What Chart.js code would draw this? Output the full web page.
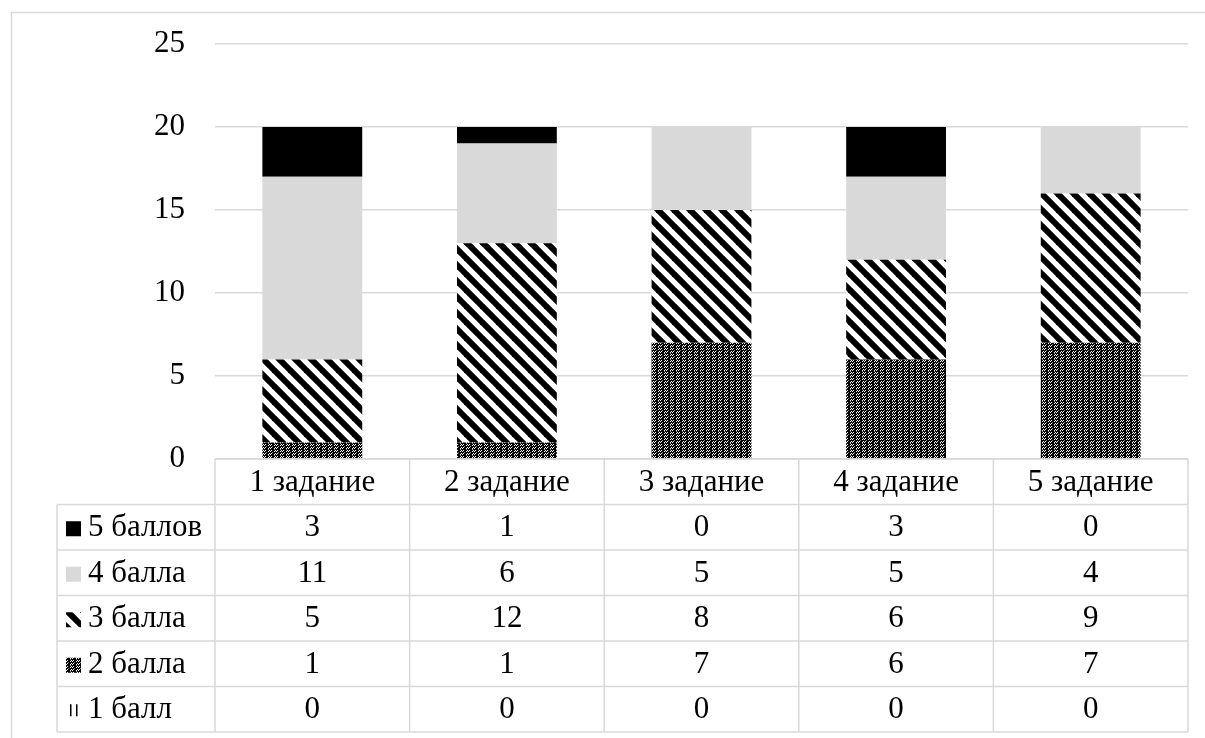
<!DOCTYPE html>
<html>
<head>
<meta charset="utf-8">
<script src="https://cdn.jsdelivr.net/npm/chart.js@4/dist/chart.umd.min.js"></script>
<style>
  html, body { margin: 0; padding: 0; background: #fff; }
  #wrap { width: 1205px; height: 738px; }
</style>
</head>
<body>
<div id="wrap"><canvas id="chart" width="1205" height="738"></canvas></div>
<script>
// ---- data ----
const tasks = ["1 задание", "2 задание", "3 задание", "4 задание", "5 задание"];
const seriesNames = ["1 балл", "2 балла", "3 балла", "4 балла", "5 баллов"]; // bottom -> top
const ball1 = [0, 0, 0, 0, 0];
const ball2 = [1, 1, 7, 6, 7];
const ball3 = [5, 12, 8, 6, 9];
const ball4 = [11, 6, 5, 5, 4];
const ball5 = [3, 1, 0, 3, 0];
const yTicks = [0, 5, 10, 15, 20, 25];

const FONT = "'Liberation Serif', 'Times New Roman', serif";
const FSIZE = 31;
const GRID = "#d9d9d9";
const LIGHT = "#d9d9d9";

// ---- fill patterns ----
function makeTile(size, draw) {
  const c = document.createElement("canvas");
  c.width = size;
  c.height = size;
  const g = c.getContext("2d");
  g.fillStyle = "#fff";
  g.fillRect(0, 0, size, size);
  draw(g, size);
  return document.createElement("canvas").getContext("2d").createPattern(c, "repeat");
}

// diagonal black stripes "\\\\"
const hatchPattern = makeTile(16, (g, s) => {
  g.strokeStyle = "#000";
  g.lineWidth = 6;
  for (let k = -1; k <= 1; k++) {
    g.beginPath();
    g.moveTo(k * s - 2, -2);
    g.lineTo(k * s + s + 2, s + 2);
    g.stroke();
  }
});

// dense dotted checker
const checkPattern = makeTile(6, (g) => {
  const px = [
    "BWBBBW",
    "WBBBWB",
    "BBGBBB",
    "BWBBBW",
    "WBBBWB",
    "BBBBGB",
  ];
  px.forEach((row, y) => {
    [...row].forEach((ch, x) => {
      g.fillStyle = ch === "B" ? "#000" : ch === "G" ? "#888" : "#fff";
      g.fillRect(x, y, 1, 1);
    });
  });
});

// thin vertical lines
const vlinePattern = makeTile(6, (g, s) => {
  g.fillStyle = "#000";
  g.fillRect(0, 0, 1, s);
});

const fills = [vlinePattern, checkPattern, hatchPattern, LIGHT, "#000"];
const values = [ball1, ball2, ball3, ball4, ball5];

// ---- table under the plot + outer frame ----
const tablePlugin = {
  id: "dataTable",
  afterDraw(chart) {
    const ctx = chart.ctx;
    const area = chart.chartArea;
    const xs = chart.scales.x;
    const colW = (area.right - area.left) / tasks.length;
    const top = area.bottom;
    const rowH = 45.5;
    const leftCol = 57;
    const nRows = seriesNames.length + 1;
    const bottom = top + rowH * nRows;

    ctx.save();
    ctx.strokeStyle = GRID;
    ctx.lineWidth = 1.5;

    // outer frame
    ctx.beginPath();
    ctx.moveTo(11.5, 738);
    ctx.lineTo(11.5, 12.5);
    ctx.lineTo(1205, 12.5);
    ctx.stroke();

    // horizontal table lines
    ctx.beginPath();
    ctx.moveTo(area.left, top);
    ctx.lineTo(area.right, top);
    for (let r = 1; r <= nRows; r++) {
      const y = top + r * rowH;
      ctx.moveTo(leftCol, y);
      ctx.lineTo(area.right, y);
    }
    // vertical table lines
    ctx.moveTo(leftCol, top + rowH);
    ctx.lineTo(leftCol, bottom);
    for (let c = 0; c <= tasks.length; c++) {
      const x = area.left + c * colW;
      ctx.moveTo(x, top);
      ctx.lineTo(x, bottom);
    }
    ctx.stroke();

    ctx.fillStyle = "#000";
    ctx.font = FSIZE + "px " + FONT;
    ctx.textBaseline = "middle";
    ctx.textAlign = "center";

    // header row
    tasks.forEach((t, i) => {
      ctx.fillText(t, xs.getPixelForValue(i), top + rowH / 2 + 1);
    });

    // data rows, top row is the top series
    for (let r = 0; r < seriesNames.length; r++) {
      const s = seriesNames.length - 1 - r;
      const cy = top + (r + 1) * rowH + rowH / 2 + 1;

      // legend key
      if (s === 0) {
        ctx.fillRect(70, cy - 6, 1.5, 12);
        ctx.fillRect(76, cy - 6, 1.5, 12);
      } else {
        ctx.fillStyle = fills[s];
        ctx.fillRect(66, cy - 7, 15, 15);
      }
      ctx.fillStyle = "#000";
      ctx.textAlign = "left";
      ctx.fillText(seriesNames[s], 88, cy);

      ctx.textAlign = "center";
      values[s].forEach((v, i) => {
        ctx.fillText(String(v), xs.getPixelForValue(i), cy);
      });
    }
    ctx.restore();
  },
};

new Chart(document.getElementById("chart"), {
  type: "bar",
  data: {
    labels: tasks,
    datasets: seriesNames.map((name, i) => ({
      label: name,
      data: values[i],
      backgroundColor: fills[i],
      borderWidth: 0,
      categoryPercentage: 1,
      barPercentage: 0.513,
    })),
  },
  options: {
    responsive: false,
    devicePixelRatio: 1,
    animation: false,
    layout: { padding: { top: 44, right: 17, bottom: 279, left: 0 } },
    plugins: { legend: { display: false }, tooltip: { enabled: false } },
    scales: {
      x: { stacked: true, display: false },
      y: {
        stacked: true,
        min: yTicks[0],
        max: yTicks[yTicks.length - 1],
        afterFit(scale) { scale.width = 215; },
        afterBuildTicks(scale) { scale.ticks = yTicks.map((v) => ({ value: v })); },
        border: { display: false },
        grid: { color: GRID, lineWidth: 1.5, drawTicks: false },
        ticks: {
          color: "#000",
          padding: 30,
          font: { family: FONT, size: FSIZE, lineHeight: 0.7 },
        },
      },
    },
  },
  plugins: [tablePlugin],
});
</script>
</body>
</html>
